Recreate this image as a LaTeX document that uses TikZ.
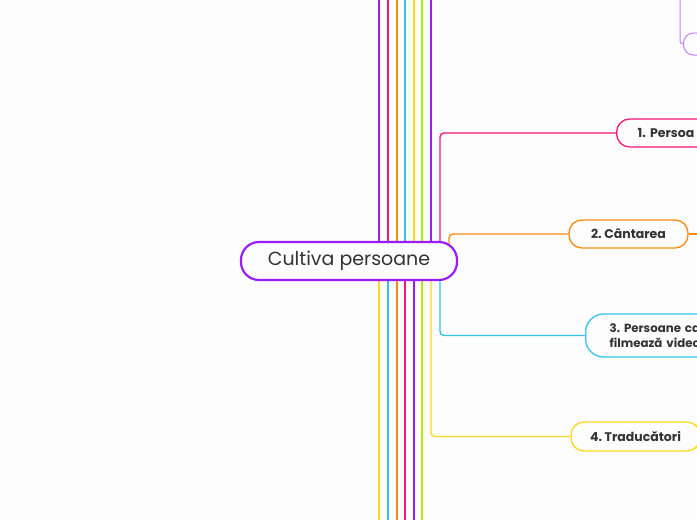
\documentclass[tikz,border=0pt]{standalone}
\usepackage{fontspec}
\setmainfont{Poppins}
\usetikzlibrary{backgrounds}
\definecolor{purp}{HTML}{9B1CFA}
\definecolor{pinkc}{HTML}{F5187A}
\definecolor{orng}{HTML}{FF8A12}
\definecolor{bluec}{HTML}{33C3F2}
\definecolor{yell}{HTML}{FFD81A}
\definecolor{lime}{HTML}{B5EE00}
\definecolor{lav}{HTML}{C27FFF}
\definecolor{txt}{HTML}{333333}
\definecolor{bgc}{HTML}{FDFDFD}
\tikzset{
  vline/.style={line width=1.6pt},
  branch/.style={line width=1.4pt, rounded corners=4pt},
  topic/.style={draw, fill=bgc, line width=1.3pt, rounded corners=13pt, text=txt,
     font=\fontsize{12.5}{15}\selectfont\bfseries, inner ysep=0pt},
  central/.style={draw=purp, fill=bgc, line width=2.2pt, rounded corners=18pt, text=txt,
     font=\fontsize{19}{22}\selectfont, minimum width=216pt, minimum height=38pt, inner sep=0pt}
}
\begin{document}
\frenchspacing
\begin{tikzpicture}[x=1pt,y=-1pt]
\useasboundingbox (0,0) rectangle (697,520);
\clip (0,0) rectangle (697,520);
% central
\node[central] (c) at (349,261) {Cultiva persoane};
% topics
\node[topic, draw=lav, line width=1pt, anchor=west, minimum height=22pt, minimum width=80pt, rounded corners=10pt] (n0) at (683,44) {};
\node[topic, draw=pinkc, anchor=west, minimum height=28pt, text width=100pt, inner xsep=21pt, align=left] (n1) at (616,133) {\frenchspacing 1. Persoa};
\node[topic, draw=orng, minimum height=28pt, minimum width=119pt, inner xsep=0pt] (n2) at (628.5,234) {\frenchspacing 2. Cântarea};
\node[topic, draw=bluec, anchor=west, minimum height=43pt, text width=100pt, inner xsep=24pt, align=left, rounded corners=18pt, font=\fontsize{11.8}{15}\selectfont\bfseries] (n3) at (585,335.5) {\frenchspacing 3. Persoane ca\\filmează video};
\node[topic, draw=yell, minimum height=29pt, minimum width=129pt, inner xsep=0pt] (n4) at (635.5,436.5) {\frenchspacing 4. Traducători};
% coordinates
\coordinate (pk) at (440,250);
\coordinate (or) at (449,250);
\coordinate (bl) at (440,272);
\coordinate (ye) at (431,272);
\coordinate (lv) at (680,0);
\coordinate (oe) at (700,234);
\begin{pgfonlayer}{background}
\fill[bgc] (0,0) rectangle (697,520);
% top verticals
\foreach \x/\col in {379/purp,388/pinkc,397/orng,405/bluec,414/yell,422/lime,431/purp}{
  \coordinate (t\x) at (\x,0);
  \draw[vline,\col] (t\x) -- (t\x |- c.center);
}
% bottom verticals
\foreach \x/\col in {379/yell,388/bluec,397/orng,405/pinkc,414/purp,422/lime}{
  \coordinate (b\x) at (\x,520);
  \draw[vline,\col] (b\x) -- (b\x |- c.center);
}
\draw[branch, pinkc] (pk) |- (n1.west);
\draw[branch, orng] (or) |- (n2.west);
\draw[branch, orng] (n2.east) -- (oe);
\draw[branch, bluec] (bl) |- (n3.west);
\draw[branch, yell] (ye) |- (n4.west);
\draw[line width=1pt, lav, rounded corners=3pt] (lv) |- (n0.west);
\end{pgfonlayer}
\end{tikzpicture}
\end{document}
